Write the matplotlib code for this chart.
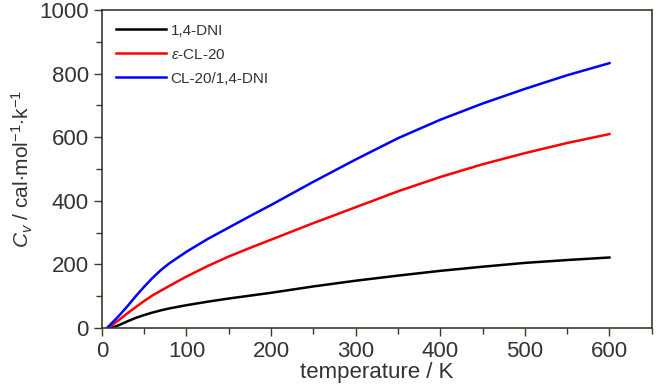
import matplotlib
matplotlib.use('Agg')
import matplotlib.pyplot as plt
from matplotlib.ticker import MultipleLocator

# ==================== 数据 ====================
T_dni = [10, 20, 30, 40, 50, 60, 70, 80, 100, 125, 150, 175, 200, 250, 300, 350, 400, 450, 500, 550, 600]
cv_dni = [0, 9, 21, 32, 41, 49, 56, 62, 72, 83, 93, 102, 111, 131, 149, 165, 180, 193, 205, 214, 222]

T_cl20 = [7, 20, 30, 40, 50, 60, 70, 80, 100, 125, 150, 175, 200, 250, 300, 350, 400, 450, 500, 550, 600]
cv_cl20 = [0, 25, 46, 66, 85, 103, 118, 133, 162, 195, 225, 252, 278, 330, 380, 430, 475, 515, 550, 582, 610]

T_co = [6, 20, 30, 40, 50, 60, 70, 80, 100, 125, 150, 175, 200, 250, 300, 350, 400, 450, 500, 550, 600]
cv_co = [0, 38, 68, 100, 130, 158, 183, 204, 240, 280, 316, 352, 387, 460, 530, 597, 655, 706, 752, 795, 833]

labels = ['1,4-DNI', r'$\varepsilon$-CL-20', 'CL-20/1,4-DNI']
colors = ['black', 'red', 'blue']

# ==================== 字体 ====================
plt.rcParams['font.family'] = ['Liberation Sans', 'DejaVu Sans']
plt.rcParams['mathtext.fontset'] = 'custom'
plt.rcParams['mathtext.rm'] = 'Liberation Sans'
plt.rcParams['mathtext.it'] = 'Liberation Sans:italic'

fig = plt.figure(figsize=(6.57, 3.86), dpi=100)
ax = fig.add_axes([0.155, 0.150, 0.837, 0.824])

for T, cv, lab, c in zip([T_dni, T_cl20, T_co], [cv_dni, cv_cl20, cv_co], labels, colors):
    ax.plot(T, cv, color=c, lw=1.8, label=lab)

ax.set_xlim(0, 650)
ax.set_ylim(0, 1000)
ax.xaxis.set_major_locator(MultipleLocator(100))
ax.xaxis.set_minor_locator(MultipleLocator(50))
ax.yaxis.set_major_locator(MultipleLocator(200))
ax.yaxis.set_minor_locator(MultipleLocator(100))

frame_col = '#3a3a2c'
for s in ax.spines.values():
    s.set_color(frame_col)
    s.set_linewidth(1.2)
ax.tick_params(which='both', direction='out', color=frame_col, width=1.0,
               labelsize=16, labelcolor='#333333')
ax.tick_params(which='major', length=6)
ax.tick_params(which='minor', length=4)

ax.set_xlabel('temperature / K', fontsize=16, color='#333333', labelpad=0)
ax.set_ylabel(r'$C_v$ / cal$\cdot$mol$^{-1}$$\cdot$k$^{-1}$', fontsize=15, color='#333333', labelpad=3)

ax.legend(loc='upper left', frameon=False, fontsize=11, handlelength=3.3,
          handletextpad=0.3, labelspacing=0.65, borderaxespad=0.5,
          labelcolor='#333333')

fig.savefig('out.png', dpi=100)
